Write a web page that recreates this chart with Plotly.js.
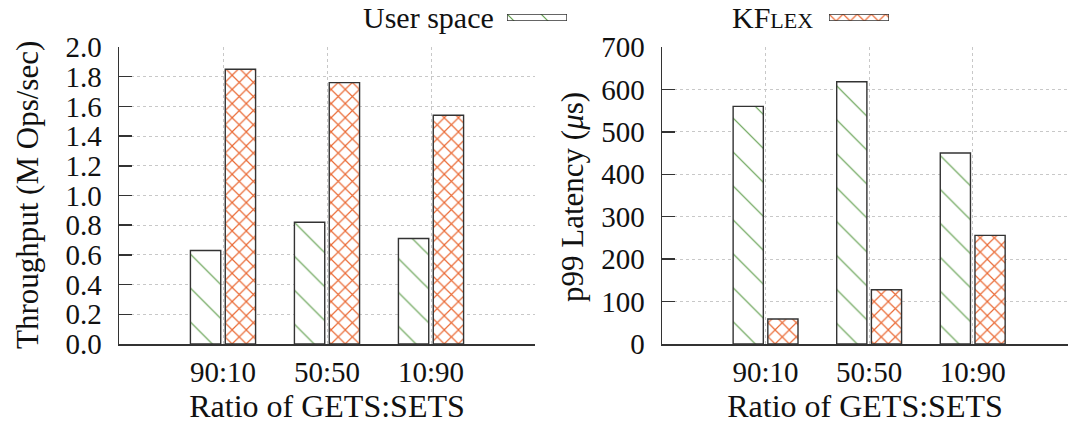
<!DOCTYPE html>
<html>
<head>
<meta charset="utf-8">
<script src="https://cdn.plot.ly/plotly-3.0.1.min.js"></script>
<style>
  html, body { margin: 0; padding: 0; background: #fff; }
  #chart { width: 1068px; height: 426px; }
</style>
</head>
<body>
<div id="chart"></div>
<script>
// Workload mixes on the x axis
const categories = ['90:10', '50:50', '10:90'];

// Throughput in millions of operations per second
const throughputUser = [0.63, 0.82, 0.71];
const throughputKflex = [1.85, 1.76, 1.54];

// 99th percentile latency in microseconds
const latencyUser = [560, 618, 450];
const latencyKflex = [59, 128, 256];

// Series names
const userName = 'User space';
const kflexName = 'KF<span style="font-size:22px">LEX</span>';

const FONT = 'Liberation Serif, Times New Roman, serif';
const TXT = '#111111';
const GREEN = '#5f9e4c';
const ORANGE = '#ea6a35';
const EDGE = '#333333';
const W = 1068, H = 426;
const px = v => v / W;
const py = v => 1 - v / H;

const userStyle = {
  color: '#ffffff',
  line: { color: EDGE, width: 1.4 },
  pattern: { shape: '\\', fgcolor: GREEN, bgcolor: '#ffffff', size: 24, solidity: 0.05, fillmode: 'replace' }
};
const kflexStyle = {
  color: '#ffffff',
  line: { color: EDGE, width: 1.4 },
  pattern: { shape: 'x', fgcolor: ORANGE, bgcolor: '#ffffff', size: 10, solidity: 0.22, fillmode: 'replace' }
};

const traces = [
  { type: 'bar', x: categories, y: throughputUser, name: userName, marker: userStyle, xaxis: 'x', yaxis: 'y', showlegend: false },
  { type: 'bar', x: categories, y: throughputKflex, name: kflexName, marker: kflexStyle, xaxis: 'x', yaxis: 'y', showlegend: false },
  { type: 'bar', x: categories, y: latencyUser, name: userName, marker: userStyle, xaxis: 'x2', yaxis: 'y2', showlegend: false },
  { type: 'bar', x: categories, y: latencyKflex, name: kflexName, marker: kflexStyle, xaxis: 'x2', yaxis: 'y2', showlegend: false },
  // legend keys drawn as patterned swatches
  { type: 'bar', orientation: 'h', x: [1], y: [0], width: 1, marker: userStyle, xaxis: 'x3', yaxis: 'y3', showlegend: false, hoverinfo: 'skip' },
  { type: 'bar', orientation: 'h', x: [1], y: [0], width: 1, marker: kflexStyle, xaxis: 'x4', yaxis: 'y4', showlegend: false, hoverinfo: 'skip' }
];

const gridStyle = { showgrid: true, gridcolor: '#c8c8c8', griddash: 'dot', gridwidth: 1 };
const tickFont = { family: FONT, size: 29, color: TXT };
const xTitleFont = { family: FONT, size: 32, color: TXT };
const yTitleFont = { family: FONT, size: 31, color: TXT };
const legendFont = { family: FONT, size: 30, color: TXT };
const xBase = Object.assign({
  type: 'category',
  showline: true, linecolor: EDGE, linewidth: 1.5,
  ticks: '', ticklabelstandoff: 2,
  tickfont: tickFont,
  zeroline: false
}, gridStyle);
const yBase = Object.assign({
  showline: true, linecolor: EDGE, linewidth: 1.5,
  ticks: 'inside', ticklen: 13, tickcolor: EDGE, tickwidth: 1.5,
  tickfont: tickFont,
  ticklabelstandoff: 10,
  zeroline: false
}, gridStyle);
const hidden = { visible: false, fixedrange: true };

const layout = {
  width: W, height: H,
  margin: { l: 0, r: 0, t: 0, b: 0 },
  paper_bgcolor: '#ffffff', plot_bgcolor: '#ffffff',
  font: { family: FONT, color: TXT },
  barmode: 'group', bargap: 0.33, bargroupgap: 0.13,
  showlegend: false,
  xaxis: Object.assign({}, xBase, {
    domain: [px(119), px(535)], range: [-1, 3], anchor: 'y',
    title: { text: 'Ratio of GETS:SETS', font: xTitleFont, standoff: 2 }
  }),
  yaxis: Object.assign({}, yBase, {
    domain: [py(344), py(47)], range: [0, 2.0], dtick: 0.2, tickformat: '.1f', anchor: 'x'
  }),
  xaxis2: Object.assign({}, xBase, {
    domain: [px(662), 1], range: [-1, 2.92], anchor: 'y2',
    title: { text: 'Ratio of GETS:SETS', font: xTitleFont, standoff: 2 }
  }),
  yaxis2: Object.assign({}, yBase, {
    domain: [py(344), py(47)], range: [0, 700], dtick: 100, anchor: 'x2'
  }),
  xaxis3: Object.assign({}, hidden, { domain: [px(507), px(567)], range: [0, 1], anchor: 'y3' }),
  yaxis3: Object.assign({}, hidden, { domain: [py(21), py(14)], range: [-0.5, 0.5], anchor: 'x3' }),
  xaxis4: Object.assign({}, hidden, { domain: [px(829), px(889)], range: [0, 1], anchor: 'y4' }),
  yaxis4: Object.assign({}, hidden, { domain: [py(21), py(14)], range: [-0.5, 0.5], anchor: 'x4' }),
  annotations: [
    // y axis titles
    { text: 'Throughput (M Ops/sec)', textangle: -90, xref: 'paper', yref: 'paper', x: px(27), y: py(195),
      xanchor: 'center', yanchor: 'middle', showarrow: false, font: yTitleFont },
    { text: 'p99 Latency (<i>μ</i>s)', textangle: -90, xref: 'paper', yref: 'paper', x: px(572), y: py(197),
      xanchor: 'center', yanchor: 'middle', showarrow: false, font: yTitleFont },
    // legend labels
    { text: userName, xref: 'paper', yref: 'paper', x: px(496), y: py(18), xanchor: 'right', yanchor: 'middle',
      showarrow: false, font: legendFont },
    { text: kflexName, xref: 'paper', yref: 'paper', x: px(730), y: py(18), xanchor: 'left', yanchor: 'middle',
      showarrow: false, font: legendFont }
  ]
};

Plotly.newPlot('chart', traces, layout, { staticPlot: true, displayModeBar: false });
</script>
</body>
</html>
